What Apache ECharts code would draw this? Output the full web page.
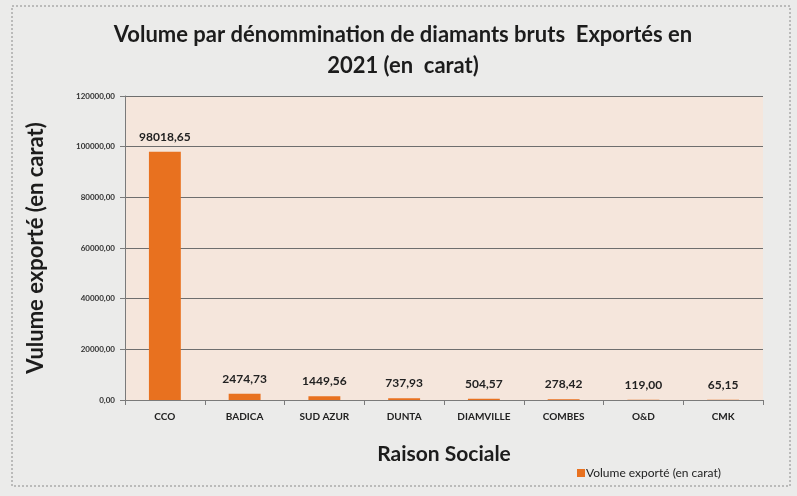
<!DOCTYPE html>
<html>
<head>
<meta charset="utf-8">
<script src="https://cdn.jsdelivr.net/npm/echarts@6/dist/echarts.min.js"></script>
<style>
  html, body { margin: 0; padding: 0; background: #ebebea; }
  #chart { width: 797px; height: 496px; }
</style>
</head>
<body>
<div id="chart"></div>
<script>
const companies = ['CCO', 'BADICA', 'SUD AZUR', 'DUNTA', 'DIAMVILLE', 'COMBES', 'O&D', 'CMK']
const volumes = [98018.65, 2474.73, 1449.56, 737.93, 504.57, 278.42, 119.00, 65.15]
const yTicks = [0, 20000, 40000, 60000, 80000, 100000, 120000]

const fmt = v => v.toFixed(2).replace('.', ',')
const font = 'Lato, "Open Sans", sans-serif'

const chart = echarts.init(document.getElementById('chart'))
chart.setOption({
  backgroundColor: '#ebebea',
  textStyle: { fontFamily: font },
  title: {
    text: 'Volume par dénommination de diamants bruts  Exportés en\n2021 (en  carat)',
    left: 398,
    top: 14,
    textAlign: 'center',
    textStyle: { fontSize: 22, fontWeight: 'bold', color: '#1c1c1c', lineHeight: 31, fontFamily: font }
  },
  legend: {
    data: ['Volume exporté (en carat)'],
    left: 572,
    top: 462,
    itemWidth: 8,
    itemHeight: 8,
    icon: 'rect',
    textStyle: { fontSize: 12, color: '#222', padding: [0, 0, 0, -4] }
  },
  graphic: [{
    type: 'rect',
    shape: { x: 12, y: 6, width: 778, height: 480 },
    style: { fill: 'none', stroke: '#8a8a8a', lineWidth: 1, lineDash: [2, 2] },
    silent: true
  }],
  grid: {
    left: 125,
    right: 34,
    top: 96,
    bottom: 96,
    show: true,
    backgroundColor: '#f5e6dc',
    borderWidth: 0
  },
  xAxis: {
    type: 'category',
    data: companies,
    name: 'Raison Sociale',
    nameLocation: 'middle',
    nameGap: 44,
    nameTextStyle: { fontSize: 21, fontWeight: 'bold', color: '#1c1c1c' },
    axisLine: { lineStyle: { color: '#7a7a7a' } },
    axisTick: { show: true, lineStyle: { color: '#7a7a7a' } },
    axisLabel: { fontSize: 10, color: '#222', margin: 12, fontWeight: 'bold' }
  },
  yAxis: {
    type: 'value',
    min: 0,
    max: 120000,
    interval: 20000,
    name: 'Vulume exporté (en carat)',
    nameLocation: 'middle',
    nameGap: 78,
    nameTextStyle: { fontSize: 22, fontWeight: 'bold', color: '#1c1c1c' },
    axisLine: { show: true, lineStyle: { color: '#7a7a7a' } },
    axisTick: { show: true, length: 5, lineStyle: { color: '#7a7a7a' } },
    axisLabel: {
      fontSize: 8,
      color: '#333',
      margin: 10,
      fontWeight: 'bold',
      formatter: v => yTicks.includes(v) ? fmt(v) : ''
    },
    splitLine: { lineStyle: { color: '#6e6e6e', width: 1 } }
  },
  series: [
    {
      name: 'Volume exporté (en carat)',
      type: 'bar',
      data: volumes,
      barWidth: '40%',
      itemStyle: { color: '#e8711f' },
      label: {
        show: true,
        position: 'top',
        distance: 9,
        fontSize: 12,
        fontWeight: 'bold',
        color: '#222',
        formatter: p => fmt(p.value)
      }
    }
  ]
})
</script>
</body>
</html>
